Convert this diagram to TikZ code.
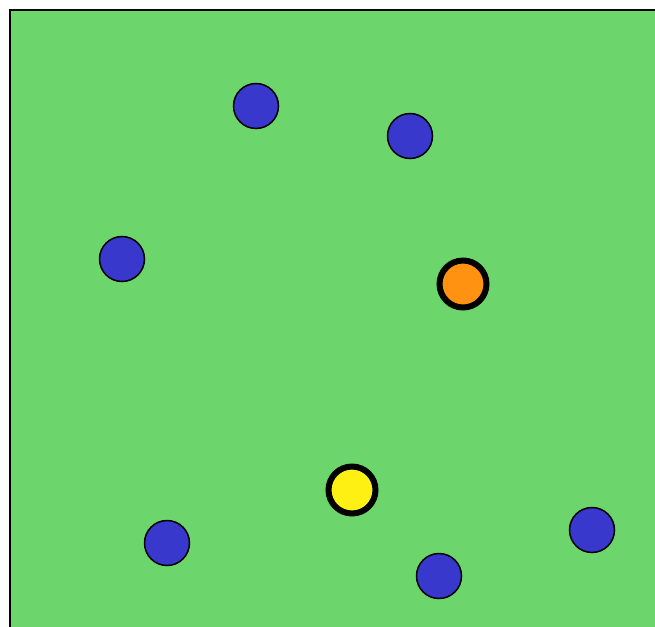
\documentclass[tikz,border=0pt]{standalone}
\definecolor{fieldgreen}{RGB}{108,214,108}
\definecolor{ballblue}{RGB}{56,56,204}
\definecolor{ballorange}{RGB}{255,146,16}
\definecolor{ballyellow}{RGB}{255,240,20}
\tikzset{
  ball/.style={circle,draw=black,inner sep=0pt},
  blueball/.style={ball,fill=ballblue,line width=0.03cm,minimum size=0.9cm},
  ringball/.style={ball,line width=0.12cm,minimum size=0.94cm}
}
\begin{document}
\begin{tikzpicture}[x=0.02cm,y=-0.02cm]
    \useasboundingbox (0,0) rectangle (655,626);
    \clip (0,0) rectangle (655,626);
    \fill[white] (0,0) rectangle (655,626);
    \draw[fill=fieldgreen,line width=0.04cm] (10,10) rectangle (680,650);

    % blue balls
    \foreach \n\x\y in {
        1/256/106,
        2/410/136,
        3/122/259,
        4/167/543,
        5/439/576,
        6/592/530}{
      \node[blueball] (b\n) at (\x,\y) {};
    }

    \node[ringball,fill=ballorange] (orange) at (463,284) {};
    \node[ringball,fill=ballyellow] (yellow) at (352,490) {};
  \end{tikzpicture}
\end{document}
